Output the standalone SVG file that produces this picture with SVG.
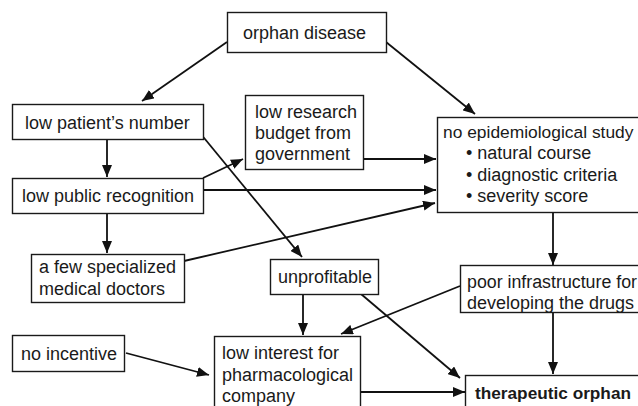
<svg xmlns="http://www.w3.org/2000/svg" width="638" height="406" viewBox="0 0 638 406">
<style>
.box{fill:#fff;stroke:#1a1a1a;stroke-width:1.4}
.t{font-family:"Liberation Sans",Arial,sans-serif;font-size:18px;fill:#1a1a1a}
.b{font-weight:bold;font-size:17px}
.c{stroke:#111;stroke-width:1.8;fill:none;marker-end:url(#ah)}
</style>
<defs>
<marker id="ah" markerUnits="userSpaceOnUse" markerWidth="12" markerHeight="10" refX="12" refY="5" orient="auto">
<path d="M0,0 L12,5 L0,10 Z" fill="#111"/>
</marker>
</defs>
<rect width="638" height="406" fill="#fff"/>
<g id="connectors">
<line class="c" x1="227" y1="42" x2="142" y2="101"/>
<line class="c" x1="386" y1="42" x2="475" y2="114"/>
<line class="c" x1="107" y1="139" x2="107" y2="177"/>
<line class="c" x1="107" y1="213" x2="107" y2="253"/>
<line class="c" x1="200" y1="133" x2="302" y2="257"/>
<line class="c" x1="203" y1="178" x2="243" y2="159"/>
<line class="c" x1="203" y1="190" x2="436" y2="190"/>
<line class="c" x1="363" y1="159" x2="436" y2="159"/>
<line class="c" x1="184" y1="261" x2="435" y2="203"/>
<line class="c" x1="553" y1="212" x2="553" y2="265"/>
<line class="c" x1="460" y1="286" x2="341" y2="334"/>
<line class="c" x1="361" y1="294" x2="460" y2="378"/>
<line class="c" x1="303" y1="294" x2="303" y2="335"/>
<line class="c" x1="126" y1="353" x2="209" y2="375"/>
<line class="c" x1="553" y1="313" x2="553" y2="374"/>
<line class="c" x1="361" y1="392" x2="465" y2="392"/>
</g>
<g id="orphan-disease">
<rect class="box" x="227.5" y="12.5" width="159" height="40"/>
<text class="t" x="243" y="39">orphan disease</text>
</g>
<g id="low-patients-number">
<rect class="box" x="12.5" y="104.5" width="191" height="35"/>
<text class="t" x="25" y="129">low patient’s number</text>
</g>
<g id="low-research-budget">
<rect class="box" x="245.5" y="95.5" width="118" height="74"/>
<text class="t" x="255" y="118">low research</text>
<text class="t" x="255" y="139">budget from</text>
<text class="t" x="255" y="160">government</text>
</g>
<g id="no-epidemiological-study">
<rect class="box" x="437.5" y="117.5" width="215" height="95"/>
<text class="t" x="443" y="138" style="font-size:17.4px">no epidemiological study</text>
<text class="t" x="466" y="159">• natural course</text>
<text class="t" x="466" y="181">• diagnostic criteria</text>
<text class="t" x="466" y="202">• severity score</text>
</g>
<g id="low-public-recognition">
<rect class="box" x="12.5" y="178.5" width="191" height="35"/>
<text class="t" x="22" y="202">low public recognition</text>
</g>
<g id="few-specialized-doctors">
<rect class="box" x="31.5" y="254.5" width="153" height="48"/>
<text class="t" x="39" y="273">a few specialized</text>
<text class="t" x="39" y="295">medical doctors</text>
</g>
<g id="unprofitable">
<rect class="box" x="270.5" y="259.5" width="108" height="35"/>
<text class="t" x="278" y="283">unprofitable</text>
</g>
<g id="poor-infrastructure">
<rect class="box" x="460.5" y="265.5" width="190" height="47"/>
<text class="t" x="467" y="288" textLength="170" lengthAdjust="spacingAndGlyphs">poor infrastructure for</text>
<text class="t" x="467" y="309">developing the drugs</text>
</g>
<g id="no-incentive">
<rect class="box" x="12.5" y="335.5" width="112" height="36"/>
<text class="t" x="21" y="360">no incentive</text>
</g>
<g id="low-interest">
<rect class="box" x="214.5" y="336.5" width="146" height="80"/>
<text class="t" x="222" y="359">low interest for</text>
<text class="t" x="222" y="381">pharmacological</text>
<text class="t" x="222" y="402">company</text>
</g>
<g id="therapeutic-orphan">
<rect class="box" x="465.5" y="375.5" width="190" height="50"/>
<text class="t b" x="475" y="399" textLength="156" lengthAdjust="spacingAndGlyphs">therapeutic orphan</text>
</g>
</svg>
